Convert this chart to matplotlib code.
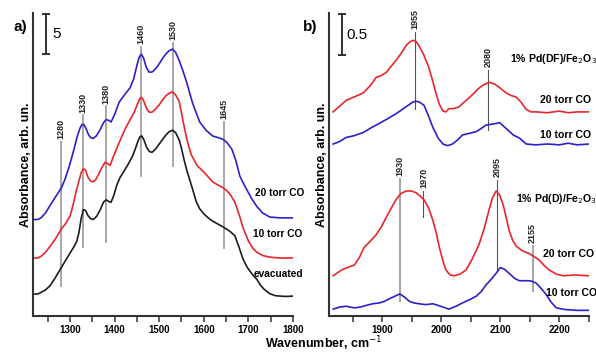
import matplotlib
matplotlib.use('Agg')
import matplotlib.pyplot as plt

plt.rcParams['font.family'] = ['Liberation Sans', 'DejaVu Sans']

# panel a) : wavenumber / absorbance (arb. units)
wn_evac = [1220, 1228, 1235, 1245, 1255, 1266, 1278, 1290, 1300, 1308, 1315, 1320, 1325,
           1330, 1335, 1340, 1346, 1352, 1360, 1368, 1375, 1381, 1387, 1392, 1398, 1405,
           1412, 1420, 1430, 1440, 1447, 1452, 1457, 1461, 1466, 1472, 1478, 1484, 1492,
           1500, 1508, 1515, 1522, 1530, 1537, 1545, 1550, 1555, 1562, 1575, 1583, 1591,
           1600, 1610, 1620, 1630, 1643, 1652, 1660, 1670, 1678, 1688, 1697, 1705, 1712,
           1719, 1727, 1735, 1748, 1760, 1770, 1785, 1800]
ab_evac = [2.7, 2.7, 2.9, 3.2, 3.7, 4.6, 5.7, 6.8, 7.7, 8.4, 9.1, 10.2, 11.9,
           13.0, 12.9, 12.3, 11.9, 11.8, 12.2, 13.0, 13.9, 14.2, 14.0, 13.9, 14.7, 16.0,
           16.9, 17.6, 18.5, 19.5, 20.5, 21.3, 21.9, 22.0, 21.5, 20.6, 20.1, 20.0, 20.4,
           21.0, 21.6, 22.1, 22.5, 22.7, 22.4, 21.5, 20.5, 19.3, 17.8, 15.5, 14.0, 13.1,
           12.5, 12.0, 11.6, 11.3, 10.9, 10.6, 10.3, 9.8, 8.6, 7.0, 6.0, 5.4, 4.9,
           4.5, 3.8, 3.3, 2.75, 2.5, 2.45, 2.4, 2.45]

wn_10a = [1220, 1228, 1235, 1245, 1255, 1268, 1280, 1290, 1300, 1307, 1314, 1320, 1325,
          1330, 1335, 1340, 1346, 1352, 1358, 1365, 1372, 1379, 1385, 1390, 1396, 1405,
          1415, 1425, 1435, 1445, 1452, 1457, 1461, 1466, 1472, 1478, 1484, 1492, 1500,
          1508, 1515, 1522, 1530, 1537, 1545, 1553, 1562, 1572, 1585, 1600, 1610, 1620,
          1632, 1643, 1652, 1660, 1670, 1680, 1688, 1700, 1710, 1719, 1732, 1748, 1770, 1800]
ab_10a = [7.1, 7.1, 7.3, 7.8, 8.5, 9.5, 10.6, 11.3, 12.2, 13.6, 15.3, 16.5, 17.5,
          18.0, 17.8, 17.0, 16.5, 16.4, 16.7, 17.4, 18.2, 18.8, 18.6, 18.4, 19.3, 20.5,
          21.8, 23.0, 24.0, 25.0, 26.0, 26.6, 26.7, 26.2, 25.3, 24.9, 24.9, 25.3, 25.8,
          26.4, 26.9, 27.2, 27.4, 27.0, 26.2, 24.0, 21.6, 19.7, 18.4, 17.6, 17.0, 16.4,
          16.0, 15.7, 15.3, 14.8, 13.9, 12.3, 10.8, 9.2, 8.3, 7.8, 7.4, 7.2, 7.1, 7.1]

wn_20a = [1220, 1228, 1235, 1245, 1255, 1268, 1280, 1288, 1296, 1303, 1310, 1316, 1322,
          1327, 1331, 1336, 1341, 1346, 1352, 1359, 1367, 1375, 1381, 1387, 1392, 1400,
          1410, 1422, 1435, 1443, 1450, 1455, 1460, 1465, 1471, 1477, 1484, 1492, 1500,
          1508, 1515, 1522, 1530, 1537, 1545, 1553, 1562, 1575, 1591, 1605, 1620, 1632,
          1643, 1652, 1663, 1672, 1681, 1690, 1697, 1708, 1719, 1732, 1748, 1770, 1800]
ab_20a = [11.8, 11.8, 12.0, 12.6, 13.5, 14.6, 15.6, 16.6, 17.9, 19.2, 20.6, 21.9, 22.9,
          23.4, 23.4, 22.9, 22.2, 21.8, 21.7, 22.0, 22.7, 23.6, 24.0, 23.9, 23.7, 24.6,
          26.1, 27.0, 27.9, 29.0, 30.6, 31.6, 32.0, 31.5, 30.4, 29.8, 29.8, 30.2, 30.8,
          31.5, 32.0, 32.4, 32.6, 32.2, 31.2, 30.0, 28.5, 26.0, 23.7, 22.7, 22.0, 21.8,
          21.6, 21.2, 20.4, 19.0, 17.1, 16.1, 15.4, 14.3, 13.4, 12.6, 12.1, 12.0, 12.0]

bands_a = [1280, 1330, 1380, 1460, 1530, 1645]
band_a_top = [21.3, 24.5, 25.6, 32.9, 33.4, 23.7]
band_a_bot = [3.7, 8.4, 9.0, 17.1, 18.3, 8.3]

# panel b) : CO region
wn_df20 = [1817, 1828, 1839, 1852, 1868, 1880, 1890, 1898, 1907, 1916, 1924, 1933, 1941,
           1947, 1953, 1958, 1962, 1970, 1979, 1985, 1991, 1997, 2003, 2008, 2013, 2021,
           2030, 2039, 2047, 2056, 2064, 2072, 2081, 2090, 2098, 2110, 2118, 2127, 2135,
           2144, 2152, 2161, 2180, 2200, 2215, 2230, 2250]
ab_df20 = [2.48, 2.55, 2.62, 2.66, 2.71, 2.80, 2.90, 2.92, 2.96, 3.04, 3.11, 3.20, 3.29,
           3.33, 3.35, 3.33, 3.29, 3.18, 3.02, 2.87, 2.71, 2.57, 2.49, 2.48, 2.52, 2.52,
           2.54, 2.60, 2.65, 2.71, 2.77, 2.81, 2.84, 2.82, 2.78, 2.71, 2.68, 2.66, 2.60,
           2.51, 2.48, 2.48, 2.47, 2.49, 2.47, 2.48, 2.48]

wn_df10 = [1817, 1828, 1839, 1852, 1868, 1882, 1895, 1910, 1924, 1936, 1946, 1952, 1957,
           1963, 1971, 1978, 1986, 1995, 2003, 2011, 2019, 2028, 2036, 2048, 2059, 2068,
           2076, 2085, 2093, 2099, 2105, 2113, 2122, 2133, 2144, 2160, 2180, 2200, 2215,
           2230, 2250]
ab_df10 = [2.09, 2.12, 2.17, 2.19, 2.23, 2.29, 2.34, 2.40, 2.46, 2.52, 2.57, 2.60, 2.61,
           2.60, 2.56, 2.44, 2.29, 2.16, 2.09, 2.07, 2.09, 2.14, 2.20, 2.22, 2.24, 2.28,
           2.32, 2.33, 2.34, 2.35, 2.31, 2.26, 2.20, 2.16, 2.09, 2.08, 2.09, 2.08, 2.10,
           2.08, 2.09]

wn_d20 = [1817, 1825, 1834, 1845, 1853, 1862, 1869, 1880, 1890, 1899, 1907, 1916, 1924,
          1932, 1941, 1949, 1957, 1964, 1971, 1979, 1986, 1992, 1997, 2003, 2008, 2015,
          2022, 2032, 2042, 2053, 2064, 2073, 2081, 2087, 2093, 2099, 2105, 2110, 2115,
          2121, 2127, 2138, 2149, 2158, 2166, 2175, 2183, 2195, 2207, 2225, 2250]
ab_d20 = [0.49, 0.53, 0.57, 0.60, 0.62, 0.72, 0.83, 0.91, 0.99, 1.09, 1.20, 1.32, 1.42,
          1.49, 1.52, 1.52, 1.50, 1.46, 1.41, 1.31, 1.16, 1.00, 0.83, 0.67, 0.56, 0.50,
          0.49, 0.51, 0.56, 0.70, 0.87, 1.07, 1.29, 1.44, 1.52, 1.47, 1.35, 1.20, 1.04,
          0.92, 0.85, 0.79, 0.76, 0.72, 0.68, 0.61, 0.56, 0.51, 0.49, 0.50, 0.49]

wn_d10 = [1817, 1828, 1839, 1846, 1853, 1863, 1873, 1884, 1895, 1904, 1912, 1921, 1930,
          1938, 1946, 1954, 1962, 1974, 1986, 1999, 2013, 2025, 2036, 2048, 2059, 2068,
          2076, 2085, 2093, 2100, 2107, 2115, 2124, 2132, 2140, 2149, 2155, 2161, 2170,
          2178, 2186, 2195, 2210, 2230, 2250]
ab_d10 = [0.085, 0.11, 0.12, 0.11, 0.10, 0.11, 0.13, 0.15, 0.16, 0.18, 0.21, 0.24, 0.27,
          0.23, 0.18, 0.16, 0.15, 0.14, 0.15, 0.12, 0.085, 0.12, 0.16, 0.20, 0.24, 0.30,
          0.38, 0.45, 0.52, 0.59, 0.57, 0.52, 0.46, 0.43, 0.43, 0.43, 0.42, 0.40, 0.33,
          0.26, 0.17, 0.10, 0.08, 0.07, 0.07]

bands_b = [1955, 2080, 1930, 1970, 2095, 2155]
band_b_top = [3.45, 2.99, 1.67, 1.52, 1.65, 0.85]
band_b_bot = [2.52, 2.26, 0.18, 1.20, 0.55, 0.30]

RED = '#e8262b'
BLUE = '#2a22c8'
BLACK = '#1c1c1c'

fig = plt.figure(figsize=(5.96, 3.54), dpi=100)
ax1 = fig.add_axes([0.0554, 0.107, 0.436, 0.856])
ax2 = fig.add_axes([0.552, 0.107, 0.436, 0.856])

for ax in (ax1, ax2):
    for s in ('top', 'right'):
        ax.spines[s].set_visible(False)
    for s in ('left', 'bottom'):
        ax.spines[s].set_linewidth(1.5)
        ax.spines[s].set_color('#333333')
    ax.set_yticks([])
    ax.tick_params(axis='x', which='both', direction='out', length=4, width=1.1,
                   color='#333333', labelsize=7, pad=2.5)
    ax.set_ylabel('Absorbance, arb. un.', fontsize=9, fontweight='bold', labelpad=1)

# ---- panel a
for b, t, lo in zip(bands_a, band_a_top, band_a_bot):
    ax1.plot([b, b], [lo, t], color='#a0a0a0', lw=1.3, zorder=1)
    ax1.annotate(str(b), (b, t), xytext=(0, 2), textcoords='offset points',
                 rotation=90, ha='center', va='bottom', fontsize=6.5,
                 fontweight='bold', color='#222222')
ax1.plot(wn_evac, ab_evac, color=BLACK, lw=1.2)
ax1.plot(wn_10a, ab_10a, color=RED, lw=1.2)
ax1.plot(wn_20a, ab_20a, color=BLUE, lw=1.2)
ax1.set_xlim(1217, 1800)
ax1.set_ylim(0, 37)
ax1.set_xticks([1300, 1400, 1500, 1600, 1700, 1800])
ax1.set_xticks(range(1250, 1800, 100), minor=True)
for lab in ax1.get_xticklabels():
    lab.set_fontweight('bold')
ax1.text(1715, 15.0, '20 torr CO', fontsize=7.3, fontweight='bold', va='center', clip_on=False)
ax1.text(1711, 10.0, '10 torr CO', fontsize=7.3, fontweight='bold', va='center', clip_on=False)
ax1.text(1711, 5.2, 'evacuated', fontsize=7.3, fontweight='bold', va='center', clip_on=False)
# scale bar
ax1.errorbar([1246], [34.45], yerr=[2.5], color='#222222', capsize=3, lw=1.3, capthick=1.3)
ax1.text(1260, 34.4, '5', fontsize=11, va='center', ha='left')
fig.text(0.034, 0.925, 'a)', fontsize=11, fontweight='bold', ha='center', va='center')

# ---- panel b
for b, t, lo in zip(bands_b, band_b_top, band_b_bot):
    light = b in (1930, 2155)
    ax2.plot([b, b], [lo, t], color='#a8a8a8' if light else '#555555',
             lw=1.5 if light else 0.8, zorder=1)
    ax2.annotate(str(b), (b, t), xytext=(0, 2), textcoords='offset points',
                 rotation=90, ha='center', va='bottom', fontsize=6.5,
                 fontweight='bold', color='#222222')
ax2.plot(wn_df20, ab_df20, color=RED, lw=1.2)
ax2.plot(wn_df10, ab_df10, color=BLUE, lw=1.2)
ax2.plot(wn_d20, ab_d20, color=RED, lw=1.2)
ax2.plot(wn_d10, ab_d10, color=BLUE, lw=1.2)
ax2.set_xlim(1810, 2250)
ax2.set_ylim(0, 3.68)
ax2.set_xticks([1900, 2000, 2100, 2200])
ax2.set_xticks([1850, 1950, 2050, 2150, 2250], minor=True)
for lab in ax2.get_xticklabels():
    lab.set_fontweight('bold')
ax2.text(2116, 3.12, '1% Pd(DF)/Fe$_2$O$_3$', fontsize=7.6, fontweight='bold', va='center', clip_on=False)
ax2.text(2167, 2.62, '20 torr CO', fontsize=7.6, fontweight='bold', va='center', clip_on=False)
ax2.text(2167, 2.20, '10 torr CO', fontsize=7.6, fontweight='bold', va='center', clip_on=False)
ax2.text(2126, 1.42, '1% Pd(D)/Fe$_2$O$_3$', fontsize=7.6, fontweight='bold', va='center', clip_on=False)
ax2.text(2172, 0.75, '20 torr CO', fontsize=7.6, fontweight='bold', va='center', clip_on=False)
ax2.text(2177, 0.28, '10 torr CO', fontsize=7.6, fontweight='bold', va='center', clip_on=False)
ax2.errorbar([1832], [3.42], yerr=[0.25], color='#222222', capsize=3, lw=1.3, capthick=1.3)
ax2.text(1840, 3.42, '0.5', fontsize=11, va='center', ha='left')
fig.text(0.52, 0.925, 'b)', fontsize=11, fontweight='bold', ha='center', va='center')

fig.text(0.544, 0.028, 'Wavenumber, cm$^{-1}$', fontsize=9, fontweight='bold',
         ha='center', va='center')

fig.savefig('out.png', dpi=100)
